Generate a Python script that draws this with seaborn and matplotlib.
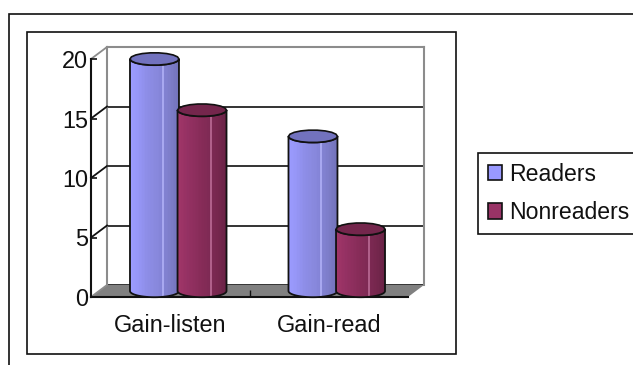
import numpy as np
import pandas as pd
import seaborn as sns
import matplotlib
matplotlib.use("Agg")
import matplotlib.pyplot as plt
from matplotlib.colors import LinearSegmentedColormap, same_color
from matplotlib.patches import Patch, Polygon, Rectangle

categories = ["Gain-listen", "Gain-read"]
series_names = ["Readers", "Nonreaders"]
readers = [19.5, 13.0]
nonreaders = [15.2, 5.2]
y_ticks = [0, 5, 10, 15, 20]

W, H = 633, 365
DPI = 100
plt.rcParams["font.family"] = ["Liberation Sans", "DejaVu Sans"]
FONT = 16.9
LEGEND_FONT = 16.6
palette = {"Readers": "#9999FF", "Nonreaders": "#993366"}
shades = {
    "Readers": ["#9C9CFF", "#9696F6", "#8E8EE8", "#8A8AE0", "#8484D6", "#7E7ECA", "#7474BC"],
    "Nonreaders": ["#A03668", "#963264", "#8E2F5E", "#862C58", "#7E2A54", "#76274E", "#6A2346"],
}
highlight = {"Readers": "#A8A8F0", "Nonreaders": "#B0608A"}
tops = {"Readers": "#7272BE", "Nonreaders": "#74264C"}

df = pd.DataFrame({
    "category": categories * 2,
    "series": [series_names[0]] * 2 + [series_names[1]] * 2,
    "value": readers + nonreaders,
})

fig = plt.figure(figsize=(W / DPI, H / DPI), dpi=DPI, facecolor="white")


def px_axes(left, bottom_y, width, height, **kw):
    """Axes placed by pixel box, y measured from the top of the figure."""
    return fig.add_axes([left / W, 1 - bottom_y / H, width / W, height / H], **kw)


# Chart-area frames, running off the right and bottom edges where needed
for x0, y0, x1, y1 in [(9, 14, 700, 420), (27, 32, 456, 354)]:
    fig.add_artist(Rectangle((x0 / W, 1 - y1 / H), (x1 - x0) / W, (y1 - y0) / H,
                             transform=fig.transFigure, fill=False,
                             edgecolor="#111111", linewidth=1.2))

# Three parallel planes of the 3D box share one scale
PLOT_W, PLOT_H = 317, 238
back = px_axes(107, 285, PLOT_W, PLOT_H, facecolor="none", zorder=2)
front = px_axes(91, 297, PLOT_W, PLOT_H, facecolor="none", zorder=3)
mid = px_axes(99, 291, PLOT_W, PLOT_H, facecolor="none", zorder=4)
xlim, ylim = (-0.5, 1.5), (0, 20)

sns.barplot(data=df, x="category", y="value", hue="series", order=categories,
            hue_order=series_names, palette=palette, width=0.6, gap=0,
            saturation=1, legend=False, ax=mid)

# Back wall: gridlines and grey edges
back.set(xlim=xlim, ylim=ylim, xticks=[], yticks=y_ticks, xlabel="", ylabel="")
back.tick_params(left=False, labelleft=False)
back.grid(axis="y", color="#111111", linewidth=1.2)
for sp in back.spines.values():
    sp.set_color("#8c8c8c")
    sp.set_linewidth(1.5)
back.spines["bottom"].set_visible(False)

# Front plane: the visible axis lines, ticks and labels
front.set(xlim=xlim, ylim=ylim, xlabel="", ylabel="")
front.set_xticks(range(len(categories)), categories)
front.set_xticks([0.5], minor=True)
front.set_yticks(y_ticks, [str(v) for v in y_ticks])
front.tick_params(axis="x", which="major", length=0, labelsize=FONT, pad=12, colors="#111111")
front.tick_params(axis="x", which="minor", length=5, width=1, direction="in", color="#111111")
front.tick_params(axis="y", length=4, width=1.2, direction="in", labelsize=FONT, pad=2, colors="#111111")
for name in ("top", "right"):
    front.spines[name].set_visible(False)
for name in ("left", "bottom"):
    front.spines[name].set_linewidth(1.5)
    front.spines[name].set_color("#111111")

# Floor and the slanted ticks that join the front axis to the back wall
floor_pts = [front.transData.transform((xlim[i], 0)) for i in (0, 1)]
back_pts = [back.transData.transform((xlim[i], 0)) for i in (1, 0)]
front.add_patch(Polygon(floor_pts + back_pts, closed=True, transform=None,
                        facecolor="#808080", edgecolor="none", zorder=0, clip_on=False))
for v in y_ticks:
    a = front.transData.transform((xlim[0], v))
    b = back.transData.transform((xlim[0], v))
    edge = v in (y_ticks[0], y_ticks[-1])
    front.plot([a[0], b[0]], [a[1], b[1]], transform=None, clip_on=False,
               color="#8c8c8c" if edge else "#111111", linewidth=1.3, zorder=1)

# Cylinders: each seaborn bar supplies the position and height
mid.set(xlim=xlim, ylim=ylim, xlabel="", ylabel="")
mid.axis("off")
ry = 6.2 / (PLOT_H / (ylim[1] - ylim[0]))
theta = np.linspace(0, np.pi, 40)
rim = np.linspace(0, 2 * np.pi, 19)
N_COL = 32


def series_of(patch):
    return "Readers" if same_color(patch.get_facecolor(), palette["Readers"]) else "Nonreaders"


bars = sorted(mid.patches, key=lambda p: series_names.index(series_of(p)))
for i, bar in enumerate(bars):
    name = series_of(bar)
    x0, w, h = bar.get_x(), bar.get_width(), bar.get_height()
    bar.set_visible(False)
    cx, rx = x0 + w / 2, w / 2 * 1.03
    xs = cx - rx * np.cos(theta)
    # Body outline: top rim's front half, then the base's front half
    body = np.column_stack([
        np.r_[xs, xs[::-1]],
        np.r_[h - ry * np.sin(theta), -ry * np.sin(theta[::-1])],
    ])
    z = 5 + i
    outline = Polygon(body, closed=True, facecolor="none", edgecolor="#111111",
                      linewidth=1.3, zorder=z + 0.2, clip_on=False)
    mid.add_patch(outline)
    cmap = LinearSegmentedColormap.from_list(name, shades[name], N=256)
    column = cmap(np.linspace(0, 1, N_COL))
    column[int(N_COL * 0.66)] = matplotlib.colors.to_rgba(highlight[name])
    img = mid.imshow(column[None, :, :], aspect="auto",
                     extent=(cx - rx, cx + rx, -ry, h + ry), zorder=z,
                     interpolation="nearest")
    img.set_clip_box(fig.bbox)
    img.set_clip_path(outline)
    # Top cap with a coarse, slightly faceted rim
    top = np.column_stack([cx - rx * np.cos(rim), h + ry * np.sin(rim)])
    mid.add_patch(Polygon(top, closed=True, facecolor=tops[name], edgecolor="#111111",
                          linewidth=1.2, zorder=z + 0.3, clip_on=False))
mid.set(xlim=xlim, ylim=ylim)

# Legend box, cut off by the right edge of the figure
handles = [Patch(facecolor=palette[n], edgecolor="#111111", linewidth=1.2, label=n)
           for n in series_names]
fig.legend(handles=handles, loc="upper left", bbox_to_anchor=(478 / W, 1 - 153 / H),
           bbox_transform=fig.transFigure, fontsize=LEGEND_FONT, frameon=True, fancybox=False,
           framealpha=1, edgecolor="#111111", borderaxespad=0, borderpad=0.42,
           handlelength=0.64, handleheight=0.66, handletextpad=0.3, labelspacing=0.68,
           labelcolor="#111111").get_frame().set_linewidth(1.2)

fig.savefig("out.png", dpi=DPI, facecolor="white")
